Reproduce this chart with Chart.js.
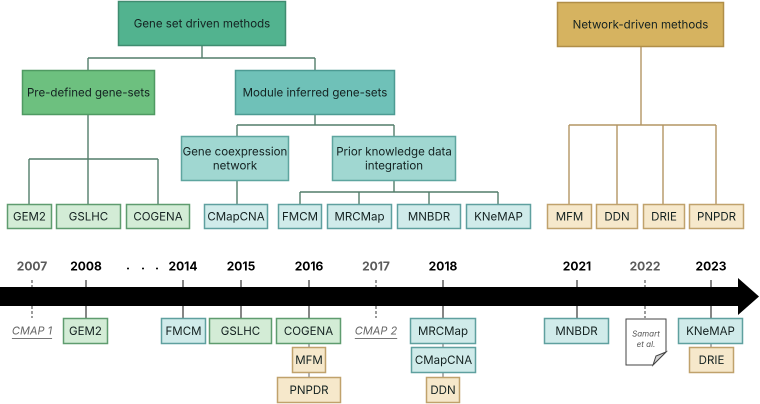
<!DOCTYPE html>
<html>
<head>
<meta charset="utf-8">
<script src="https://cdn.jsdelivr.net/npm/chart.js@4"></script>
<style>
html,body{margin:0;padding:0;background:#fff;}
#wrap{width:760px;height:404px;}
</style>
</head>
<body>
<div id="wrap"><canvas id="c" width="760" height="404"></canvas></div>
<script>
// ---------- DATA ----------
const treeLabels = [
  "Gene set driven methods", "Pre-defined gene-sets", "Module inferred gene-sets",
  "Gene coexpression\nnetwork", "Prior knowledge data\nintegration", "Network-driven methods"
];
const treeLeafLabels = ["GEM2","GSLHC","COGENA","CMapCNA","FMCM","MRCMap","MNBDR","KNeMAP","MFM","DDN","DRIE","PNPDR"];
const treeLeafFamily = ["pre","pre","pre","coexp","prior","prior","prior","prior","net","net","net","net"];
const timelineYears = ["2007","2008","2014","2015","2016","2017","2018","2021","2022","2023"];
const yearIsReference = [true,false,false,false,false,true,false,false,true,false];
const referenceLabels = ["CMAP 1","CMAP 2"];
const referenceYears = ["2007","2017"];
const eventMethods = ["GEM2","FMCM","GSLHC","COGENA","MFM","PNPDR","MRCMap","CMapCNA","DDN","MNBDR","KNeMAP","DRIE"];
const eventYears   = ["2008","2014","2015","2016","2016","2016","2018","2018","2018","2021","2023","2023"];
const eventFamily  = ["pre","module","pre","pre","net","net","module","module","net","module","module","net"];
const paperLabel = ["Samart", "et al."];
const paperYear = "2022";

// ---------- LAYOUT (diagram units) ----------
const treeRects = [[118,1,286,46],[22,70,155,115],[235,70,395,115],[181,136,289,181],[332,136,456,181],[557,2,724,47]];
const treeStyles = ["top","pre","mod","sub","sub","net"];
const leafX = [[7,52],[56,121],[126,190],[204,268],[278,322],[327,392],[397,461],[466,531],[547,592],[596,638],[643,685],[689,744]];
const leafY = [204,229];
const connectorsGreen = [
  [[202,46],[202,58]],[[88,58],[315,58]],[[88,58],[88,70]],[[315,58],[315,70]],
  [[88,115],[88,159]],[[29,159],[158,159]],[[29,159],[29,204]],[[88,159],[88,204]],[[158,159],[158,204]],
  [[315,115],[315,125]],[[237,125],[394,125]],[[237,125],[237,136]],[[394,125],[394,136]],
  [[237,181],[237,204]],
  [[394,181],[394,192]],[[300,192],[498,192]],[[300,192],[300,204]],[[359,192],[359,204]],[[429,192],[429,204]],[[498,192],[498,204]]
];
const connectorsGold = [
  [[641,47],[641,125]],[[569,125],[716,125]],[[569,125],[569,204]],[[617,125],[617,204]],[[663,125],[663,204]],[[716,125],[716,204]]
];
const yearX = [32,86,183,241,309,376,443,577,645,711];
const eventX = [[63,108],[161,206],[209,272],[276,341],[292,326],[277,341],[410,476],[411,476],[426,460],[544,609],[678,743],[689,734]];
const rowY = [[318,344],[347,373],[377,403]];

const styles = {
  top:{fill:"#52b38f",stroke:"#3f8c70"},
  pre:{fill:"#6dc07f",stroke:"#4f9a62"},
  mod:{fill:"#6fc1b8",stroke:"#4c9b93"},
  sub:{fill:"#a0d7d1",stroke:"#5ea59f"},
  net:{fill:"#d6b360",stroke:"#b08e48"},
  leafpre:{fill:"#d3ecd6",stroke:"#5f9c6f"},
  leafteal:{fill:"#d0ebea",stroke:"#5fa09f"},
  leafnet:{fill:"#f6e8cb",stroke:"#c0a26c"}
};
function leafStyle(f){ return f==="pre"?styles.leafpre:(f==="net"?styles.leafnet:styles.leafteal); }
const FONT = "Inter, 'Open Sans', sans-serif";

const diagramPlugin = {
  id:"diagram",
  afterDraw(chart){
    const ctx = chart.ctx, sx = chart.scales.x, sy = chart.scales.y;
    const X = v => sx.getPixelForValue(v), Y = v => sy.getPixelForValue(v);
    ctx.save();
    function line(a,b,color,w,dash){
      ctx.beginPath(); ctx.strokeStyle=color; ctx.lineWidth=w||1.3; ctx.setLineDash(dash||[]);
      ctx.moveTo(X(a[0]),Y(a[1])); ctx.lineTo(X(b[0]),Y(b[1])); ctx.stroke(); ctx.setLineDash([]);
    }
    function box(x1,y1,x2,y2,st,label,size){
      const px=X(x1),py=Y(y1),pw=X(x2)-px,ph=Y(y2)-py;
      ctx.fillStyle=st.fill; ctx.fillRect(px,py,pw,ph);
      ctx.strokeStyle=st.stroke; ctx.lineWidth=1.5; ctx.strokeRect(px+0.5,py+0.5,pw-1,ph-1);
      ctx.fillStyle="#142221"; ctx.font=(size||11)+"px "+FONT; ctx.textAlign="center"; ctx.textBaseline="middle";
      const lines=label.split("\n"), lh=14, cy=py+ph/2;
      lines.forEach((t,i)=>ctx.fillText(t,px+pw/2,cy+(i-(lines.length-1)/2)*lh+0.5));
    }
    // tree connectors
    connectorsGreen.forEach(s=>line(s[0],s[1],"#527d6a",1.4));
    connectorsGold.forEach(s=>line(s[0],s[1],"#b39563",1.4));
    // tree nodes
    treeLabels.forEach((l,i)=>{const r=treeRects[i]; box(r[0],r[1],r[2],r[3],styles[treeStyles[i]],l,11.5);});
    treeLeafLabels.forEach((l,i)=>box(leafX[i][0],leafY[0],leafX[i][1],leafY[1],leafStyle(treeLeafFamily[i]),l,11.5));
    // timeline bar + arrow
    ctx.fillStyle="#000";
    ctx.fillRect(X(0),Y(287),X(739)-X(0),Y(306)-Y(287));
    ctx.beginPath(); ctx.moveTo(X(738),Y(278)); ctx.lineTo(X(759),Y(296.5)); ctx.lineTo(X(738),Y(315)); ctx.closePath(); ctx.fill();
    // years and ticks
    timelineYears.forEach((yr,i)=>{
      const ref=yearIsReference[i], x=yearX[i];
      line([x,280],[x,287],ref?"#666":"#444",1.3,ref?[3,2]:null);
      line([x,306],[x,318],ref?"#666":"#444",1.3,ref?[3,2]:null);
      ctx.fillStyle=ref?"#5b5b5b":"#000"; ctx.font="bold 12px "+FONT; ctx.textAlign="center"; ctx.textBaseline="middle";
      ctx.fillText(yr,X(x),Y(267));
    });
    ctx.fillStyle="#000"; ctx.font="bold 12px "+FONT;
    [128,143,157].forEach(x=>ctx.fillText(".",X(x),Y(266)));
    // reference labels
    referenceLabels.forEach((l,i)=>{
      const x=X(yearX[timelineYears.indexOf(referenceYears[i])]);
      ctx.fillStyle="#666"; ctx.font="italic 11px "+FONT; ctx.textAlign="center"; ctx.textBaseline="middle";
      ctx.fillText(l,x,Y(331));
      const w=ctx.measureText(l).width;
      ctx.strokeStyle="#777"; ctx.lineWidth=0.9; ctx.beginPath(); ctx.moveTo(x-w/2,Y(338.5)); ctx.lineTo(x+w/2,Y(338.5)); ctx.stroke();
    });
    // stacked event connectors
    const byYear={};
    eventMethods.forEach((m,i)=>{(byYear[eventYears[i]]=byYear[eventYears[i]]||[]).push(i);});
    Object.keys(byYear).forEach(yr=>{
      const x=yearX[timelineYears.indexOf(yr)], n=byYear[yr].length;
      for(let r=1;r<n;r++) line([x,rowY[r-1][1]],[x,rowY[r][0]],"#666",1);
    });
    Object.keys(byYear).forEach(yr=>{
      byYear[yr].forEach((i,r)=>{
        box(eventX[i][0],rowY[r][0],eventX[i][1],rowY[r][1],leafStyle(eventFamily[i]),eventMethods[i],11.5);
      });
    });
    // paper document
    const dx1=X(626),dy1=Y(319),dx2=X(666),dy2=Y(365),f=13;
    ctx.beginPath(); ctx.moveTo(dx1,dy1); ctx.lineTo(dx2,dy1); ctx.lineTo(dx2,dy2-f); ctx.lineTo(dx2-f,dy2); ctx.lineTo(dx1,dy2); ctx.closePath();
    ctx.fillStyle="#fff"; ctx.fill(); ctx.strokeStyle="#444"; ctx.lineWidth=1; ctx.stroke();
    ctx.beginPath(); ctx.moveTo(dx2,dy2-f); ctx.lineTo(dx2-f+3,dy2-f+4); ctx.lineTo(dx2-f,dy2); ctx.closePath();
    ctx.fillStyle="#d4d4d4"; ctx.fill(); ctx.stroke();
    ctx.fillStyle="#555"; ctx.font="italic 8px "+FONT; ctx.textAlign="center"; ctx.textBaseline="middle";
    ctx.fillText(paperLabel[0],(dx1+dx2)/2,Y(334)); ctx.fillText(paperLabel[1],(dx1+dx2)/2,Y(344.5));
    ctx.restore();
  }
};

new Chart(document.getElementById("c"),{
  type:"scatter",
  data:{datasets:[{data:timelineYears.map((y,i)=>({x:yearX[i],y:296})),pointRadius:0}]},
  options:{
    responsive:false, animation:false, devicePixelRatio:2,
    layout:{padding:0},
    plugins:{legend:{display:false},tooltip:{enabled:false}},
    scales:{
      x:{type:"linear",min:0,max:760,display:false},
      y:{type:"linear",min:0,max:404,reverse:true,display:false}
    }
  },
  plugins:[diagramPlugin]
});
</script>
</body>
</html>
